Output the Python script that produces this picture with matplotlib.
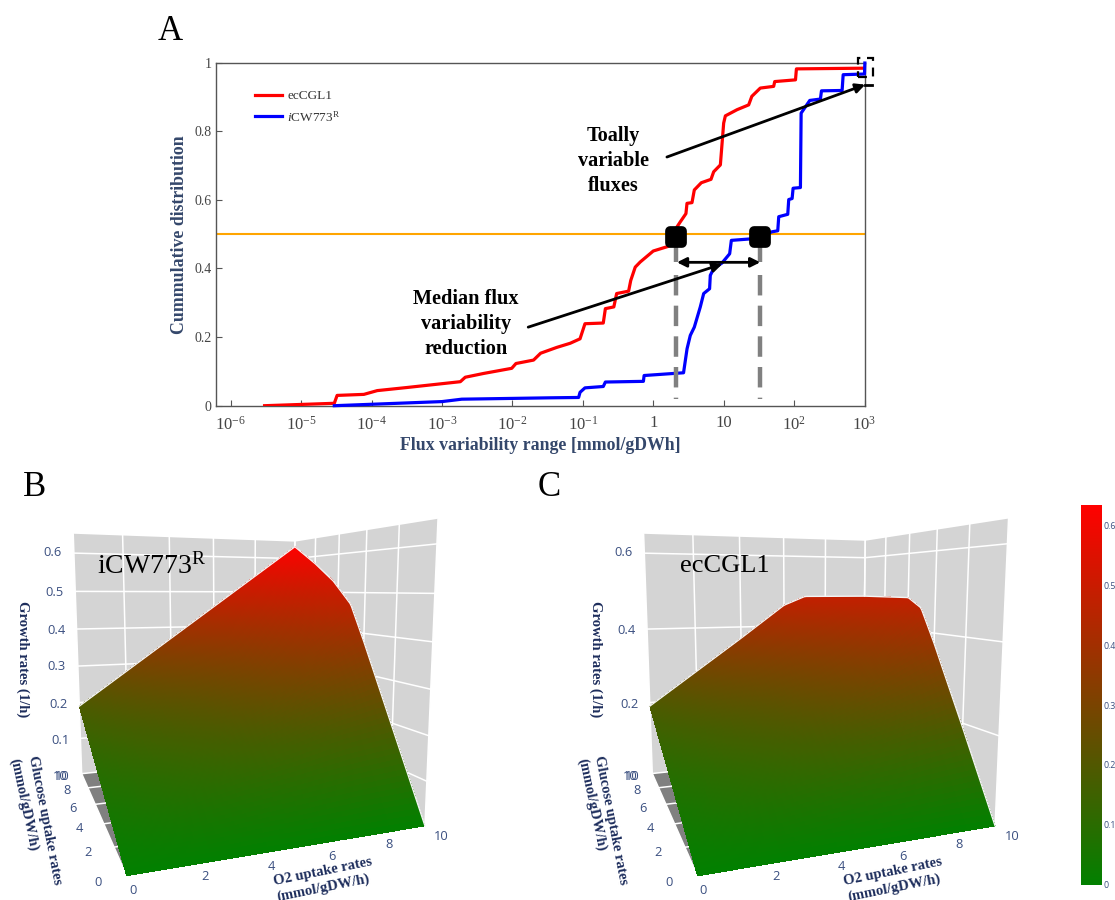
import numpy as np
import matplotlib
matplotlib.use('Agg')
import matplotlib.pyplot as plt
from matplotlib.colors import LinearSegmentedColormap, Normalize
from matplotlib.cm import ScalarMappable
from matplotlib.markers import MarkerStyle
from matplotlib.patches import Rectangle

W, H = 1115, 900
SERIF = 'Liberation Serif'
plt.rcParams['font.family'] = [SERIF, 'DejaVu Serif']
plt.rcParams['mathtext.fontset'] = 'custom'
plt.rcParams['mathtext.rm'] = SERIF
plt.rcParams['mathtext.it'] = SERIF + ':italic'
plt.rcParams['mathtext.bf'] = SERIF + ':bold'

# panel A, x is log10 of the flux range
red_logx = [-5.52, -4.53, -4.49, -4.11, -3.92, -3.5, -2.74, -2.67, -2.41, -2.01, -1.95, -1.7, -1.6, -1.37,
            -1.18, -1.04, -0.97, -0.71, -0.68, -0.56, -0.52, -0.35, -0.32, -0.256, -0.185, 0.0, 0.22, 0.336,
            0.384, 0.464, 0.479, 0.55, 0.583, 0.682, 0.82, 0.858, 0.953, 1.0, 1.024, 1.19, 1.355, 1.40, 1.52,
            1.71, 1.725, 2.02, 2.033, 2.99]
red_y = [0.0, 0.007, 0.03, 0.033, 0.044, 0.053, 0.07, 0.083, 0.094, 0.109, 0.123, 0.133, 0.153, 0.17,
         0.182, 0.195, 0.239, 0.241, 0.283, 0.288, 0.327, 0.334, 0.365, 0.404, 0.419, 0.451, 0.465, 0.521,
         0.536, 0.56, 0.59, 0.592, 0.629, 0.65, 0.66, 0.682, 0.702, 0.824, 0.845, 0.863, 0.877, 0.902, 0.926,
         0.931, 0.945, 0.95, 0.982, 0.984]

blue_logx = [-4.53, -3.0, -2.72, -1.46, -1.06, -1.04, -0.97, -0.71, -0.68, -0.14, -0.13, 0.43, 0.48,
             0.526, 0.583, 0.668, 0.716, 0.80, 0.81, 0.858, 0.976, 1.085, 1.109, 1.427, 1.687, 1.768, 1.782,
             1.91, 1.924, 1.972, 1.986, 2.09, 2.10, 2.223, 2.374, 2.389, 2.682, 2.697, 3.0, 3.005]
blue_y = [0.0, 0.012, 0.019, 0.023, 0.024, 0.039, 0.052, 0.056, 0.069, 0.071, 0.088, 0.096, 0.166,
          0.205, 0.229, 0.288, 0.327, 0.341, 0.38, 0.40, 0.416, 0.443, 0.482, 0.487, 0.507, 0.51, 0.551,
          0.558, 0.601, 0.604, 0.634, 0.636, 0.853, 0.89, 0.894, 0.918, 0.919, 0.965, 0.967, 0.999]

median_logx = [0.317, 1.52]
x_tick_exp = [-6, -5, -4, -3, -2, -1, 0, 1, 2, 3]
x_tick_labels = ['$10^{-6}$', '$10^{-5}$', '$10^{-4}$', '$10^{-3}$', '$10^{-2}$', '$10^{-1}$',
                 '1', '10', '$10^{2}$', '$10^{3}$']
y_ticks = [0, 0.2, 0.4, 0.6, 0.8, 1]
y_tick_labels = ['0', '0.2', '0.4', '0.6', '0.8', '1']

# panel B surface, growth rate on O2 (columns) and glucose (rows)
b_o2 = [0, 2, 4, 6, 8, 10]
b_glucose = [0, 2, 4, 5, 6.4, 8, 10]
b_growth = [[0, 0, 0, 0, 0, 0],
            [0.038, 0.08, 0.115, 0.14, 0.17, 0.19],
            [0.076, 0.13, 0.185, 0.25, 0.32, 0.38],
            [0.095, 0.155, 0.21, 0.28, 0.37, 0.47],
            [0.122, 0.185, 0.245, 0.32, 0.42, 0.53],
            [0.152, 0.225, 0.295, 0.375, 0.47, 0.58],
            [0.19, 0.279, 0.368, 0.457, 0.546, 0.635]]

# panel C surface
c_o2 = [0, 2, 4, 6, 7, 8, 10]
c_glucose = [0, 2, 4, 5, 6, 8, 10]
c_growth = [[0, 0, 0, 0, 0, 0, 0],
            [0.038, 0.08, 0.115, 0.14, 0.15, 0.165, 0.19],
            [0.076, 0.13, 0.185, 0.25, 0.28, 0.31, 0.375],
            [0.095, 0.155, 0.21, 0.28, 0.32, 0.36, 0.46],
            [0.114, 0.175, 0.235, 0.31, 0.35, 0.395, 0.485],
            [0.152, 0.225, 0.295, 0.38, 0.42, 0.46, 0.485],
            [0.19, 0.279, 0.368, 0.46, 0.485, 0.485, 0.485]]

z_ticks_b = [0.1, 0.2, 0.3, 0.4, 0.5, 0.6]
z_ticks_c = [0.2, 0.4, 0.6]
plane_ticks = [0, 2, 4, 6, 8, 10]
Z_TOP = 0.65
cbar_ticks = [0, 0.1, 0.2, 0.3, 0.4, 0.5, 0.6]
cbar_max = 0.635

# world point -> picture pixel, used to set the camera of each 3d panel
cal_world = [(0, 0, 0), (10, 0, 0), (0, 10, 0), (0, 10, Z_TOP), (10, 10, Z_TOP), (10, 0, Z_TOP),
             (10, 0, 0.6), (10, 0, 0.4), (0, 10, 0.6), (0, 10, 0.2)]
cal_px_b = [(126.7, 875.7), (425, 826), (81.7, 773.3), (73.3, 534), (295, 541.7), (438.3, 519.3),
            (436.7, 543.3), (432.7, 641.7), (73.8, 552.7), (79, 703)]
cal_px_c = [(697.3, 875.7), (995.4, 826), (652.7, 773.3), (643.9, 534), (865.1, 540.7), (1008.8, 519.3),
            (1007.8, 543.3), (1002.5, 641.7), (644.2, 552.7), (649.2, 703)]

green_red = LinearSegmentedColormap.from_list('green_red', ['#028000', '#ff0000'])
TICK_BLUE = '#3a4f80'
TITLE_BLUE = '#1d2d5c'

fig = plt.figure(figsize=(W / 100, H / 100), dpi=100)


def ptext(px, py, s, **kw):
    kw.setdefault('ha', 'center')
    kw.setdefault('va', 'center')
    return fig.text(px / W, 1 - py / H, s, **kw)


def px_rect(x0, y0, x1, y1):
    return [x0 / W, 1 - y1 / H, (x1 - x0) / W, (y1 - y0) / H]


def set_camera(ax, world, pixels):
    # fit a projective camera to the calibration points (plain DLT)
    ax.apply_aspect()
    disp = np.array([(x, H - y) for x, y in pixels], float)
    uv = ax.transData.inverted().transform(disp) * 10
    S = np.diag([0.1, 0.1, 1 / Z_TOP, 1.0])
    rows = []
    for (wx, wy, wz), (u, v) in zip(world, uv):
        p = [wx / 10, wy / 10, wz / Z_TOP, 1.0]
        rows.append(p + [0, 0, 0, 0] + [-u * c for c in p])
        rows.append([0, 0, 0, 0] + p + [-v * c for c in p])
    P = np.linalg.svd(np.array(rows))[2][-1].reshape(3, 4)
    if (P[2] @ [0.5, 0.5, 0.5, 1]) < 0:
        P = -P
    P = np.diag([0.1, 0.1, 1.0]) @ P @ S
    M = np.array([P[0], P[1], [0, 0, 0, -1.0], P[2]])
    ax.get_proj = lambda: M


def fine_grid(o2, glucose, growth, n=90):
    # same piecewise linear sheet, only cut finer so the colour runs smooth
    o2, glucose, growth = np.array(o2, float), np.array(glucose, float), np.array(growth, float)
    xs = np.linspace(0, 10, n)
    ys = np.linspace(0, 10, n)
    by_row = np.array([np.interp(xs, o2, row) for row in growth])
    zz = np.array([np.interp(ys, glucose, col) for col in by_row.T]).T
    xx, yy = np.meshgrid(xs, ys)
    return xx, yy, zz


def draw_surface_panel(rect, cal_px, o2, glucose, growth, z_ticks):
    ax = fig.add_axes(rect, projection='3d', computed_zorder=False)
    ax.set_axis_off()
    ax.patch.set_alpha(0)
    set_camera(ax, cal_world, cal_px)

    grid = dict(color='white', lw=1.1, zorder=2)
    # floor and two back walls
    ax.plot_surface(np.array([[0, 10], [0, 10]]), np.array([[0, 0], [10, 10]]), np.zeros((2, 2)),
                    color='#808080', shade=False, linewidth=0, zorder=1)
    ax.plot_surface(np.array([[0, 10], [0, 10]]), np.full((2, 2), 10), np.array([[0, 0], [Z_TOP, Z_TOP]]),
                    color='#d4d4d4', shade=False, linewidth=0, zorder=1)
    ax.plot_surface(np.full((2, 2), 10), np.array([[0, 10], [0, 10]]), np.array([[0, 0], [Z_TOP, Z_TOP]]),
                    color='#d4d4d4', shade=False, linewidth=0, zorder=1)
    for t in plane_ticks:
        ax.plot([t, t], [0, 10], [0, 0], **grid)
        ax.plot([0, 10], [t, t], [0, 0], **grid)
        ax.plot([t, t], [10, 10], [0, Z_TOP], **grid)
        ax.plot([10, 10], [t, t], [0, Z_TOP], **grid)
    for z in z_ticks:
        ax.plot([0, 10, 10], [10, 10, 0], [z, z, z], **grid)

    xx, yy, zz = fine_grid(o2, glucose, growth)
    mid = (zz[:-1, :-1] + zz[1:, 1:] + zz[1:, :-1] + zz[:-1, 1:]) / 4
    colors = green_red(Normalize(0, cbar_max)(mid))
    ax.plot_surface(xx, yy, zz, facecolors=colors, rstride=1, cstride=1, shade=False,
                    linewidth=0, antialiased=False, zorder=3)
    ax.plot(xx[-1], yy[-1], zz[-1], color='#f4f4f4', lw=1.0, zorder=4)
    ax.plot(xx[:, -1], yy[:, -1], zz[:, -1], color='#f4f4f4', lw=1.0, zorder=4)
    return ax


# ---- panel A
ax = fig.add_axes(px_rect(216, 62.7, 864.5, 405.7))
line_red, = ax.plot(10.0 ** np.array(red_logx), red_y, color='#ff0000', lw=2.3, label='ecCGL1', zorder=3)
line_blue, = ax.plot(10.0 ** np.array(blue_logx), blue_y, color='#0000ff', lw=2.3,
                     label='$\\mathit{i}$CW773$^{\\mathrm{R}}$', zorder=3, clip_on=False)
ax.axhline(0.5, color='#ffa500', lw=1.5, zorder=2)
ax.set_xscale('log')
ax.set_xlim(10 ** -6.21, 10 ** 3.0)
ax.set_ylim(0, 1)
ax.set_xticks([10.0 ** e for e in x_tick_exp])
ax.set_xticklabels(x_tick_labels)
ax.minorticks_off()
ax.set_yticks(y_ticks)
ax.set_yticklabels(y_tick_labels)
ax.tick_params(axis='both', direction='in', length=4, width=0.8, color='#555555', labelcolor='#444444')
ax.tick_params(axis='x', labelsize=12, pad=7)
ax.tick_params(axis='y', labelsize=10, pad=3)
for s in ax.spines.values():
    s.set_color('#555555')
    s.set_linewidth(1.0)
ax.legend(handles=[line_red, line_blue], loc='upper left', bbox_to_anchor=(0.042, 0.955), frameon=False,
          fontsize=9.5, handlelength=2.05, labelspacing=0.55, handletextpad=0.4, labelcolor='#333333')

for lx in median_logx:
    ax.plot([10.0 ** lx] * 2, [0.48, 0.42], color='#808080', lw=3.2, zorder=4, solid_capstyle='butt')
    ax.plot([10.0 ** lx] * 2, [0.38, 0.02], color='#808080', lw=3.2, zorder=4, dashes=(4.6, 2.3))
    ax.plot(10.0 ** lx, 0.493, color='black', ms=8, mew=7, zorder=6,
            marker=MarkerStyle('s', joinstyle='round'), clip_on=False)

arrow = dict(color='black', lw=2.0, shrinkA=0, shrinkB=0, mutation_scale=14)
ax.annotate('', xy=(10 ** 0.98, 0.413), xytext=(10 ** -1.776, 0.229), annotation_clip=False,
            arrowprops=dict(arrowstyle='-|>', **arrow), zorder=7)
ax.annotate('', xy=(10 ** 3.01, 0.936), xytext=(10 ** 0.194, 0.725), annotation_clip=False,
            arrowprops=dict(arrowstyle='-|>', **arrow), zorder=7)
ax.annotate('', xy=(10 ** 1.52, 0.418), xytext=(10 ** 0.336, 0.418), annotation_clip=False,
            arrowprops=dict(arrowstyle='<|-|>', **arrow), zorder=7)
ax.plot([10 ** 3.0, 10 ** 3.11], [0.936, 0.936], color='black', lw=2.0, clip_on=False, zorder=7)
ax.add_patch(Rectangle((10 ** 2.91, 0.959), 10 ** 3.125 - 10 ** 2.91, 0.056, fill=False, ec='black', lw=1.6,
                       ls=(0, (4, 3)), clip_on=False, zorder=7))

ptext(540, 445, 'Flux variability range [mmol/gDWh]', fontsize=12.8, fontweight='bold', color='#34476b')
ptext(180, 235, 'Cummulative distribution', fontsize=12.8, fontweight='bold', color='#34476b', rotation=90)
ptext(466, 324, 'Median flux\nvariability\nreduction', fontsize=14.6, fontweight='bold', linespacing=1.35)
ptext(613, 161, 'Toally\nvariable\nfluxes', fontsize=14.6, fontweight='bold', linespacing=1.35)
ptext(170, 31, 'A', fontsize=25)
ptext(35, 487, 'B', fontsize=25)
ptext(549, 487, 'C', fontsize=25)

# ---- panels B and C
draw_surface_panel(px_rect(-20, 420, 480, 920), cal_px_b, b_o2, b_glucose, b_growth, z_ticks_b)
draw_surface_panel(px_rect(580, 420, 1080, 920), cal_px_c, c_o2, c_glucose, c_growth, z_ticks_c)

tick_font = dict(fontsize=9.3, color=TICK_BLUE, family='Open Sans')
title_font = dict(fontsize=10.5, color=TITLE_BLUE, fontweight='bold')
y_tick_py = [882, 852, 828, 808, 790, 776]
x_tick_py = [891, 877, 866, 856, 845, 836]


def panel_labels(z_labels, z_py, z_px, y_px, x_px, title_px, name, name_px, name_size):
    for lab, zy, zx in zip(z_labels, z_py, z_px):
        ptext(zx, zy, lab, **tick_font)
    for lab, yy, xx in zip(plane_ticks, y_tick_py, y_px):
        ptext(xx, yy, str(lab), **tick_font)
    ptext(y_px[-1] - 2, 776, '10', **tick_font)
    for lab, yy, xx in zip(plane_ticks, x_tick_py, x_px):
        ptext(xx, yy, str(lab), **tick_font)
    ptext(title_px[0], 659, 'Growth rates (1/h)', rotation=-90, **title_font)
    ptext(title_px[1], 820, 'Glucose uptake rates', rotation=-79, **title_font)
    ptext(title_px[2], 805, '(mmol/gDW/h)', rotation=-78, **title_font)
    ptext(title_px[3], 872, 'O2 uptake rates', rotation=11.5, **title_font)
    ptext(title_px[4], 888, '(mmol/gDW/h)', rotation=11.5, **title_font)
    ptext(name_px, 566, name, fontsize=name_size, ha='left')


panel_labels(['0.6', '0.5', '0.4', '0.3', '0.2', '0.1'], [553, 592, 630, 667, 704, 740],
             [53, 55, 56, 57, 59, 60], [98, 88, 79, 73, 67, 62], [133, 205, 271, 332, 389, 441],
             [23, 45, 24, 323, 323], 'iCW773$^{\\mathrm{R}}$', 97, 20)
panel_labels(['0.6', '0.4', '0.2'], [553, 630, 704],
             [623.7, 626.5, 629.4], [668.7, 658.4, 650, 643, 637, 632], [703, 775.6, 841.4, 902.7, 959.3, 1012],
             [595.4, 611, 592, 892.7, 894.5], 'ecCGL1', 680, 19)

# ---- colorbar
cax = fig.add_axes(px_rect(1081, 505, 1102, 884.5))
cb = fig.colorbar(ScalarMappable(Normalize(0, cbar_max), green_red), cax=cax, ticks=cbar_ticks)
cb.outline.set_visible(False)
cb.ax.set_yticklabels(['0', '0.1', '0.2', '0.3', '0.4', '0.5', '0.6'])
cb.ax.tick_params(length=0, pad=1, labelsize=6.3, labelcolor=TICK_BLUE)
for t in cb.ax.get_yticklabels():
    t.set_family('Open Sans')

fig.savefig('out.png', dpi=100)
